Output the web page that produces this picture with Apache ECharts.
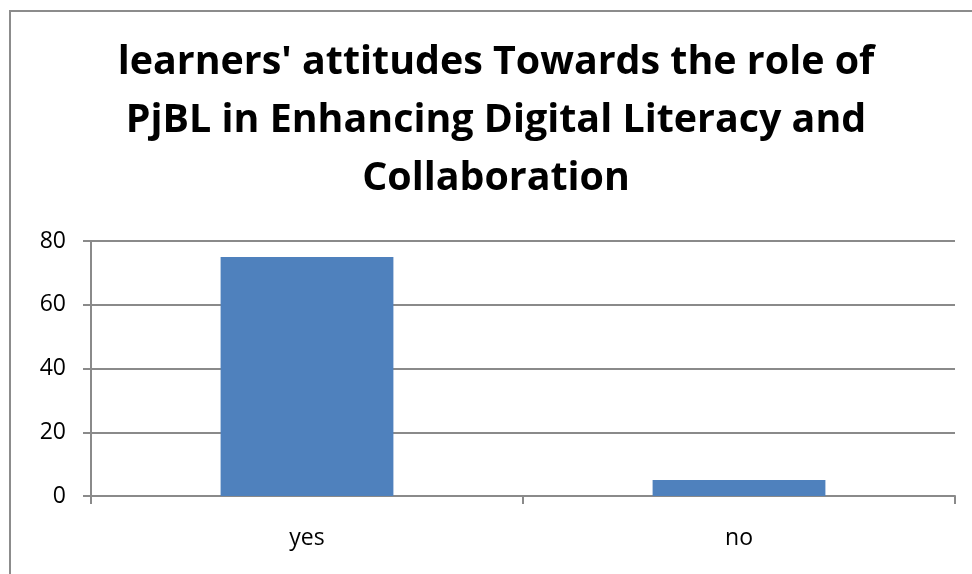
<!DOCTYPE html>
<html>
<head>
<meta charset="utf-8">
<script src="https://cdn.jsdelivr.net/npm/echarts@6/dist/echarts.min.js"></script>
<style>
  html, body { margin: 0; padding: 0; background: #fff; }
  #chart { width: 972px; height: 574px; }
</style>
</head>
<body>
<div id="chart"></div>
<script>
// Survey answers and counts
const categories = ['yes', 'no'];
const responses = [75, 5];
const yTicks = { min: 0, max: 80, interval: 20 };
const titleText = "learners' attitudes Towards the role of\nPjBL in Enhancing Digital Literacy and\nCollaboration";

const axisGray = '#8a8a8a';
const chart = echarts.init(document.getElementById('chart'), null, { renderer: 'canvas' });

chart.setOption({
  animation: false,
  backgroundColor: '#ffffff',
  title: {
    text: titleText,
    left: 496,
    top: 34,
    padding: 0,
    textAlign: 'center',
    textStyle: {
      fontFamily: 'Open Sans',
      fontWeight: 'bold',
      fontSize: 39.4,
      lineHeight: 58,
      color: '#000'
    }
  },
  graphic: [{
    type: 'rect',
    shape: { x: 10, y: 11, width: 1200, height: 800 },
    style: { fill: 'none', stroke: '#8c8c8c', lineWidth: 2 },
    silent: true,
    z: 100
  }],
  grid: { left: 91, right: 17, top: 241, bottom: 78, containLabel: false },
  xAxis: {
    type: 'category',
    data: categories,
    axisLine: { show: true, lineStyle: { color: axisGray, width: 2 } },
    axisTick: { show: true, length: 8, lineStyle: { color: axisGray, width: 2 } },
    axisLabel: { margin: 31, fontFamily: 'Open Sans', fontSize: 23, color: '#000' }
  },
  yAxis: {
    type: 'value',
    min: yTicks.min,
    max: yTicks.max,
    interval: yTicks.interval,
    axisLine: { show: true, lineStyle: { color: axisGray, width: 2 } },
    axisTick: { show: true, length: 8, lineStyle: { color: axisGray, width: 2 } },
    splitLine: { show: true, lineStyle: { color: axisGray, width: 2 } },
    axisLabel: { margin: 25, fontFamily: 'Open Sans', fontSize: 23, color: '#000' }
  },
  series: [{
    type: 'bar',
    data: responses,
    barWidth: '40%',
    itemStyle: { color: '#4f81bd' }
  }]
});
</script>
</body>
</html>
